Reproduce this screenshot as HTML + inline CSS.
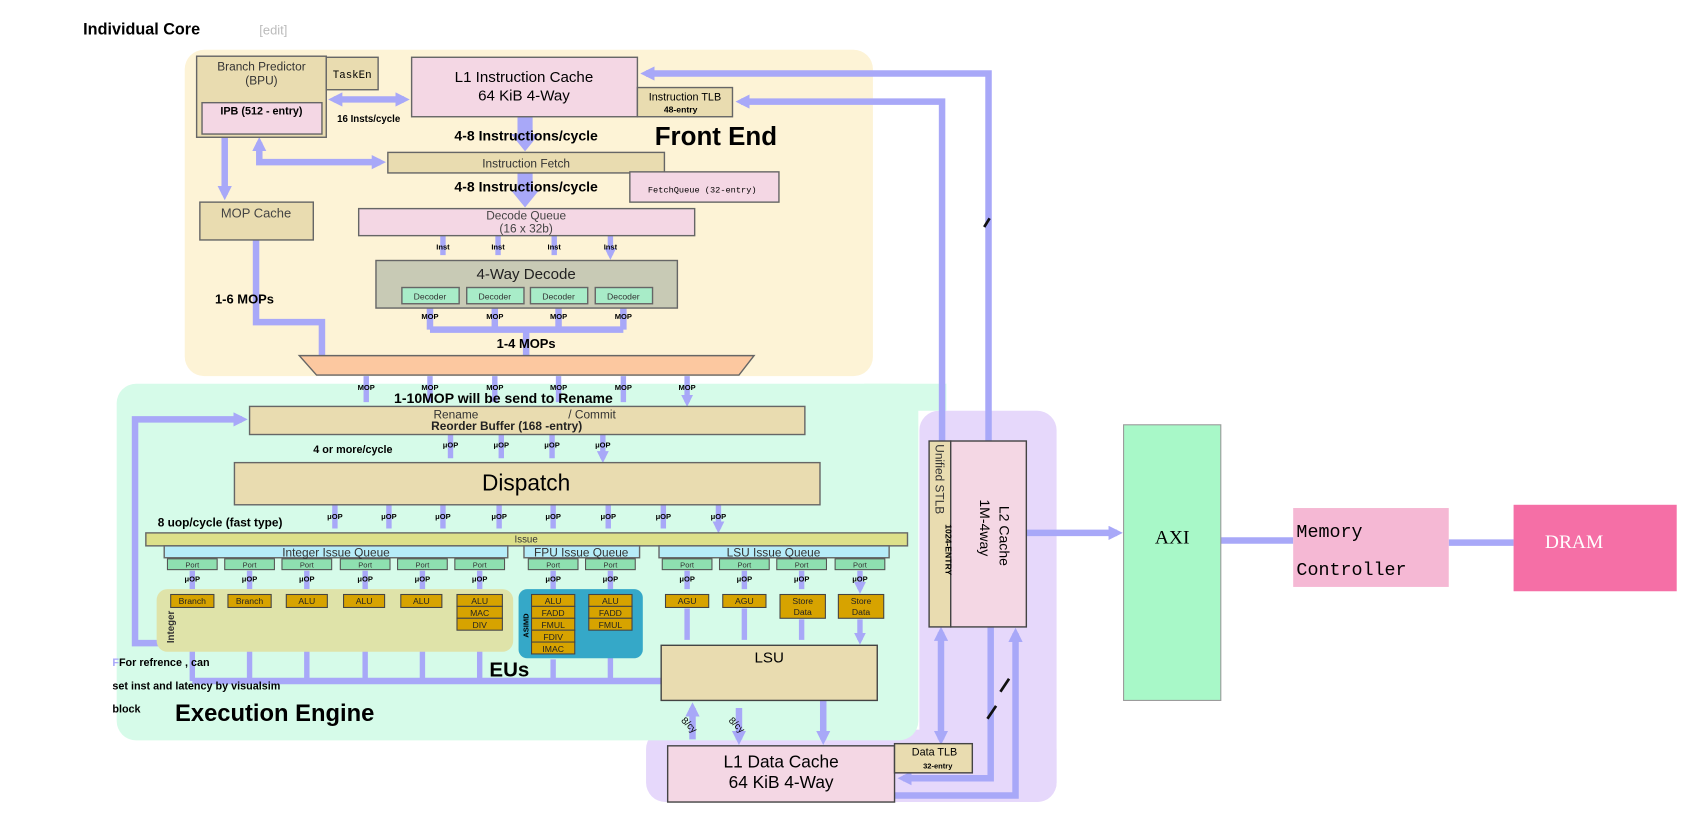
<!DOCTYPE html>
<html><head><meta charset="utf-8"><style>
html,body{margin:0;padding:0;background:#fff;width:1694px;height:815px;overflow:hidden}
svg{display:block}
text{font-family:"Liberation Sans","DejaVu Sans",sans-serif}
.b{font-weight:bold}
.m{font-family:"Liberation Mono",monospace}
.s{font-family:"Liberation Serif",serif}
</style></head><body>
<svg width="1694" height="815" viewBox="0 0 1568 754" preserveAspectRatio="none" xmlns="http://www.w3.org/2000/svg">
<defs>
<marker id="a" viewBox="0 0 10 10" refX="6" refY="5" markerWidth="2.2" markerHeight="2.2" orient="auto-start-reverse"><path d="M0,0L10,5L0,10z" fill="#a8a8f8"/></marker>
</defs>
<rect width="1568" height="754" fill="#fff"/>
<text x="77" y="32" font-size="15" class="b">Individual Core</text>
<text x="240" y="32" font-size="12" fill="#bbb">[edit]</text>

<rect x="171" y="46" width="637" height="302" rx="18" fill="#fdf3d6"/>
<rect x="851" y="380" width="127" height="362" rx="18" fill="#e6d8fb"/>
<rect x="598" y="675" width="380" height="67" rx="18" fill="#e6d8fb"/>
<rect x="108" y="355" width="742" height="330" rx="18" fill="#d6fbe9"/>
<rect x="800" y="355" width="76" height="25" fill="#d6fbe9"/>

<g fill="none" stroke="#a8a8f8">
<path d="M915,408V68H598" stroke-width="6" marker-end="url(#a)"/>
<path d="M872,408V94H686" stroke-width="6" marker-end="url(#a)"/>
<path d="M309,92H374" stroke-width="6" marker-start="url(#a)" marker-end="url(#a)"/>
<path d="M208,127V180" stroke-width="6" marker-end="url(#a)"/>
<path d="M240,132V150H352" stroke-width="6" marker-start="url(#a)" marker-end="url(#a)"/>
<path d="M237,222V298H298V330" stroke-width="6"/>
<path d="M410,218V236M461,218V236M513,218V236M565,218V236" stroke-width="5" marker-end="url(#a)"/>
<path d="M398,285V305M458,285V305M517,285V305M577,285V305M398,305H577M487,305V330" stroke-width="6"/>
<path d="M339,348V372M398,348V372M458,348V372M517,348V372M577,348V372M636,348V372" stroke-width="5" marker-end="url(#a)"/>
<path d="M150,595H125V388H224" stroke-width="6" marker-end="url(#a)"/>
<path d="M417,402V424M464,402V424M511,402V424M558,402V424" stroke-width="5" marker-end="url(#a)"/>
<path d="M310,467V489M360,467V489M410,467V489M462,467V489M512,467V489M563,467V489M614,467V489M665,467V489" stroke-width="5" marker-end="url(#a)"/>
<path d="M178,528V545M231,528V545M284,528V545M338,528V545M391,528V545M444,528V545M512,528V545M565,528V545M636,528V545M689,528V545M742,528V545M796,528V545" stroke-width="5" marker-end="url(#a)"/>
<path d="M178,630V568M231,630V568M284,630V568M338,630V568M391,630V568M444,630V590M512,630V610M565,630V588" stroke-width="5" marker-end="url(#a)"/>
<path d="M178,630H612" stroke-width="6"/>
<path d="M636,563V592M689,563V592M742,573V592M796,573V592" stroke-width="5" marker-end="url(#a)"/>
<path d="M641,655V684M684,655V684" stroke-width="6" marker-start="url(#a)" marker-end="url(#a)"/>
<path d="M762,648V684" stroke-width="6" marker-end="url(#a)"/>
<path d="M871,585V684" stroke-width="6" marker-start="url(#a)" marker-end="url(#a)"/>
<path d="M917,580V720H836" stroke-width="6" marker-end="url(#a)"/>
<path d="M940,586V736H828" stroke-width="6" marker-start="url(#a)"/>
<path d="M950,493H1034" stroke-width="6" marker-end="url(#a)"/>
<path d="M1130,500H1197" stroke-width="6"/>
<path d="M1341,502H1401" stroke-width="6"/>
</g>
<polygon points="479,108 493,108 493,124 499,124 486,140 473,124 479,124" fill="#a8a8f8"/>
<polygon points="479,160 493,160 493,176 499,176 486,192 473,176 479,176" fill="#a8a8f8"/>
<g stroke="#111" stroke-width="2.5"><path d="M911,210l5,-8M926,640l8,-12M914,665l8,-12"/></g>

<g stroke="#666" stroke-width="1.3">
<rect x="182" y="52" width="120" height="75" fill="#e9dcb0"/>
<rect x="187" y="95" width="111" height="29" fill="#f4d7e4"/>
<rect x="302" y="53" width="48" height="30" fill="#e9dcb0"/>
<rect x="381" y="53" width="209" height="55" fill="#f4d7e4"/>
<rect x="590" y="81" width="88" height="27" fill="#e9dcb0"/>
<rect x="359" y="141" width="256" height="19" fill="#e9dcb0"/>
<rect x="583" y="159" width="138" height="28" fill="#f4d7e4"/>
<rect x="185" y="187" width="105" height="35" fill="#e9dcb0"/>
<rect x="332" y="193" width="311" height="25" fill="#f4d7e4"/>
<rect x="348" y="241" width="279" height="44" fill="#c8cab5"/>
<rect x="372" y="266" width="53" height="15" fill="#a8ecc8"/>
<rect x="432" y="266" width="53" height="15" fill="#a8ecc8"/>
<rect x="491" y="266" width="53" height="15" fill="#a8ecc8"/>
<rect x="551" y="266" width="53" height="15" fill="#a8ecc8"/>
<polygon points="277,329 698,329 684,347 293,347" fill="#fcc8a0"/>
</g>
<g text-anchor="middle">
<text x="242" y="65" font-size="11" fill="#333">Branch Predictor</text>
<text x="242" y="78" font-size="11" fill="#333">(BPU)</text>
<text x="242" y="106" font-size="10" class="b">IPB (512 - entry)</text>
<text x="326" y="72" font-size="10" class="m">TaskEn</text>
<text x="485" y="76" font-size="14">L1 Instruction Cache</text>
<text x="485" y="93" font-size="14">64 KiB 4-Way</text>
<text x="634" y="93" font-size="10">Instruction TLB</text>
<text x="630" y="104" font-size="8" class="b">48-entry</text>
<text x="487" y="155" font-size="11" fill="#333">Instruction Fetch</text>
<text x="650" y="178" font-size="8" class="m">FetchQueue (32-entry)</text>
<text x="237" y="201" font-size="12" fill="#444">MOP Cache</text>
<text x="487" y="203" font-size="11" fill="#444">Decode Queue</text>
<text x="487" y="215" font-size="11" fill="#444">(16 x 32b)</text>
<text x="487" y="258" font-size="14" fill="#222">4-Way Decode</text>
<text x="398" y="277" font-size="8" fill="#333">Decoder</text>
<text x="458" y="277" font-size="8" fill="#333">Decoder</text>
<text x="517" y="277" font-size="8" fill="#333">Decoder</text>
<text x="577" y="277" font-size="8" fill="#333">Decoder</text>
<g font-size="7" class="b"><text x="410" y="231">Inst</text><text x="461" y="231">Inst</text><text x="513" y="231">Inst</text><text x="565" y="231">Inst</text>
<text x="398" y="295">MOP</text><text x="458" y="295">MOP</text><text x="517" y="295">MOP</text><text x="577" y="295">MOP</text>
<text x="339" y="361">MOP</text><text x="398" y="361">MOP</text><text x="458" y="361">MOP</text><text x="517" y="361">MOP</text><text x="577" y="361">MOP</text><text x="636" y="361">MOP</text></g>
<text x="487" y="130" font-size="13" class="b">4-8 Instructions/cycle</text>
<text x="487" y="177" font-size="13" class="b">4-8 Instructions/cycle</text>
<text x="487" y="322" font-size="12" class="b">1-4 MOPs</text>
</g>
<text x="312" y="113" font-size="9" class="b">16 Insts/cycle</text>
<text x="606" y="134" font-size="24" class="b">Front End</text>
<text x="199" y="281" font-size="12" class="b">1-6 MOPs</text>

<g stroke="#666" stroke-width="1.3">
<rect x="231" y="376" width="514" height="26" fill="#e9dcb0"/>
<rect x="217" y="428" width="542" height="39" fill="#e9dcb0"/>
<rect x="135" y="493" width="705" height="12" fill="#dde08a"/>
<rect x="152" y="505" width="318" height="11" fill="#b6ecf8"/>
<rect x="485" y="505" width="107" height="11" fill="#b6ecf8"/>
<rect x="610" y="505" width="213" height="11" fill="#b6ecf8"/>
</g>
<rect x="145" y="545" width="330" height="58" rx="10" fill="#dfe3a9"/>
<rect x="480" y="545" width="115" height="64" rx="8" fill="#35a8c8"/>
<g stroke="#555" stroke-width="1" fill="#8ee0b0">
<rect x="155" y="517" width="46" height="10"/><rect x="208" y="517" width="46" height="10"/><rect x="261" y="517" width="46" height="10"/><rect x="315" y="517" width="46" height="10"/><rect x="368" y="517" width="46" height="10"/><rect x="421" y="517" width="46" height="10"/>
<rect x="489" y="517" width="46" height="10"/><rect x="542" y="517" width="46" height="10"/>
<rect x="613" y="517" width="46" height="10"/><rect x="666" y="517" width="46" height="10"/><rect x="719" y="517" width="46" height="10"/><rect x="773" y="517" width="46" height="10"/>
</g>
<g stroke="#444" stroke-width="1" fill="#d7a300">
<rect x="158" y="550" width="40" height="12"/><rect x="211" y="550" width="40" height="12"/><rect x="265" y="550" width="38" height="12"/><rect x="318" y="550" width="38" height="12"/><rect x="371" y="550" width="38" height="12"/>
<rect x="423" y="550" width="42" height="11"/><rect x="423" y="561" width="42" height="11"/><rect x="423" y="572" width="42" height="11"/>
<rect x="492" y="550" width="40" height="11"/><rect x="492" y="561" width="40" height="11"/><rect x="492" y="572" width="40" height="11"/><rect x="492" y="583" width="40" height="11"/><rect x="492" y="594" width="40" height="11"/>
<rect x="545" y="550" width="40" height="11"/><rect x="545" y="561" width="40" height="11"/><rect x="545" y="572" width="40" height="11"/>
<rect x="616" y="550" width="40" height="12"/><rect x="669" y="550" width="40" height="12"/><rect x="722" y="550" width="42" height="22"/><rect x="776" y="550" width="42" height="22"/>
</g>
<g stroke="#444" stroke-width="1.3">
<rect x="612" y="597" width="200" height="51" fill="#e9dcb0"/>
<rect x="618" y="690" width="210" height="52" fill="#f4d7e4"/>
<rect x="828" y="688" width="72" height="27" fill="#e9dcb0"/>
<rect x="860" y="408" width="20" height="172" fill="#e9dcb0"/>
<rect x="880" y="408" width="70" height="172" fill="#f4d7e4"/>
</g>
<rect x="1040" y="393" width="90" height="255" fill="#a8f8c8" stroke="#999"/>
<rect x="1197" y="470" width="144" height="73" fill="#f5b8d4"/>
<rect x="1401" y="467" width="151" height="80" fill="#f56fa6"/>

<g text-anchor="middle">
<text x="466" y="373" font-size="13" class="b">1-10MOP will be send to Rename</text>
<text x="422" y="387" font-size="11" fill="#333">Rename</text>
<text x="548" y="387" font-size="11" fill="#333">/ Commit</text>
<text x="469" y="398" font-size="11" class="b" fill="#222">Reorder Buffer (168 -entry)</text>
<text x="487" y="454" font-size="21">Dispatch</text>
<text x="487" y="502" font-size="9" fill="#333">Issue</text>
<text x="311" y="515" font-size="11" fill="#333">Integer Issue Queue</text>
<text x="538" y="515" font-size="11" fill="#333">FPU Issue Queue</text>
<text x="716" y="515" font-size="11" fill="#333">LSU Issue Queue</text>
<g font-size="7" fill="#333"><text x="178" y="525">Port</text><text x="231" y="525">Port</text><text x="284" y="525">Port</text><text x="338" y="525">Port</text><text x="391" y="525">Port</text><text x="444" y="525">Port</text><text x="512" y="525">Port</text><text x="565" y="525">Port</text><text x="636" y="525">Port</text><text x="689" y="525">Port</text><text x="742" y="525">Port</text><text x="796" y="525">Port</text></g>
<g font-size="7" class="b"><text x="417" y="414">μOP</text><text x="464" y="414">μOP</text><text x="511" y="414">μOP</text><text x="558" y="414">μOP</text>
<text x="310" y="480">μOP</text><text x="360" y="480">μOP</text><text x="410" y="480">μOP</text><text x="462" y="480">μOP</text><text x="512" y="480">μOP</text><text x="563" y="480">μOP</text><text x="614" y="480">μOP</text><text x="665" y="480">μOP</text>
<text x="178" y="538">μOP</text><text x="231" y="538">μOP</text><text x="284" y="538">μOP</text><text x="338" y="538">μOP</text><text x="391" y="538">μOP</text><text x="444" y="538">μOP</text><text x="512" y="538">μOP</text><text x="565" y="538">μOP</text><text x="636" y="538">μOP</text><text x="689" y="538">μOP</text><text x="742" y="538">μOP</text><text x="796" y="538">μOP</text></g>
<g font-size="8" fill="#222"><text x="178" y="559">Branch</text><text x="231" y="559">Branch</text><text x="284" y="559">ALU</text><text x="337" y="559">ALU</text><text x="390" y="559">ALU</text>
<text x="444" y="559">ALU</text><text x="444" y="570">MAC</text><text x="444" y="581">DIV</text>
<text x="512" y="559">ALU</text><text x="512" y="570">FADD</text><text x="512" y="581">FMUL</text><text x="512" y="592">FDIV</text><text x="512" y="603">IMAC</text>
<text x="565" y="559">ALU</text><text x="565" y="570">FADD</text><text x="565" y="581">FMUL</text>
<text x="636" y="559">AGU</text><text x="689" y="559">AGU</text><text x="743" y="559">Store</text><text x="743" y="569">Data</text><text x="797" y="559">Store</text><text x="797" y="569">Data</text></g>
<text x="712" y="613" font-size="14">LSU</text>
<text x="723" y="710" font-size="16">L1 Data Cache</text>
<text x="723" y="729" font-size="16">64 KiB 4-Way</text>
<text x="865" y="699" font-size="10">Data TLB</text>
<text x="868" y="711" font-size="7" class="b">32-entry</text>
<text x="1085" y="503" font-size="18" class="s">AXI</text>
<text x="1457" y="507" font-size="18" class="s" fill="#fff">DRAM</text>
</g>
<text x="161" y="595" font-size="9" class="b" transform="rotate(-90 161 595)" fill="#333">Integer</text>
<text x="489" y="590" font-size="7" class="b" transform="rotate(-90 489 590)">ASIMD</text>
<text x="866" y="411" font-size="11" fill="#333" transform="rotate(90 866 411)">Unified STLB</text>
<text x="875" y="485" font-size="8" class="b" transform="rotate(90 875 485)">1024-ENTRY</text>
<text x="925" y="468" font-size="13" transform="rotate(90 925 468)">L2 Cache</text>
<text x="907" y="462" font-size="13" transform="rotate(90 907 462)">1M-4way</text>
<text x="630" y="667" font-size="9" transform="rotate(45 630 667)">8/cy</text>
<text x="674" y="667" font-size="9" transform="rotate(45 674 667)">8/cy</text>
<text x="290" y="419" font-size="10" class="b">4 or more/cycle</text>
<text x="146" y="487" font-size="11" class="b">8 uop/cycle (fast type)</text>
<text x="104" y="616" font-size="10" class="b"><tspan fill="#a8a8f8">F</tspan>For refrence , can</text>
<text x="104" y="638" font-size="10" class="b">set inst and latency by visualsim</text>
<text x="104" y="659" font-size="10" class="b">block</text>
<text x="162" y="667" font-size="22" class="b">Execution Engine</text>
<text x="453" y="626" font-size="19" class="b">EUs</text>
<text x="1200" y="497" font-size="17" class="m">Memory</text>
<text x="1200" y="532" font-size="17" class="m">Controller</text>
</svg>
</body></html>
